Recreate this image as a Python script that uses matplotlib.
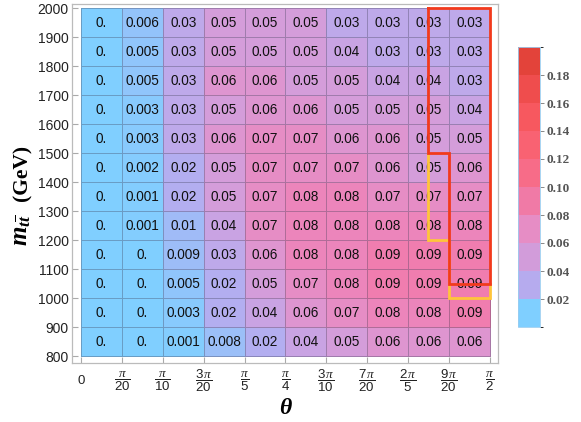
import numpy as np
import matplotlib
matplotlib.use("Agg")
import matplotlib.pyplot as plt
from matplotlib.colors import LinearSegmentedColormap, ListedColormap, BoundaryNorm
import matplotlib.cm as cm

plt.rcParams['mathtext.fontset'] = 'custom'
plt.rcParams['mathtext.rm'] = 'Liberation Serif'
plt.rcParams['mathtext.it'] = 'Liberation Serif:italic'
plt.rcParams['mathtext.bf'] = 'Liberation Serif:bold:italic'
plt.rcParams['mathtext.sf'] = 'Liberation Sans'

# ---------------- data ----------------
theta_steps = np.arange(11)                 # theta = k * pi/20
theta_edges = theta_steps * np.pi / 20
m_edges = np.arange(800, 2001, 100)          # GeV

theta_tick_labels = ['0',
                     r'$\dfrac{\pi}{\mathsf{20}}$', r'$\dfrac{\pi}{\mathsf{10}}$',
                     r'$\dfrac{\mathsf{3}\,\pi}{\mathsf{20}}$', r'$\dfrac{\pi}{\mathsf{5}}$',
                     r'$\dfrac{\pi}{\mathsf{4}}$', r'$\dfrac{\mathsf{3}\,\pi}{\mathsf{10}}$',
                     r'$\dfrac{\mathsf{7}\,\pi}{\mathsf{20}}$', r'$\dfrac{\mathsf{2}\,\pi}{\mathsf{5}}$',
                     r'$\dfrac{\mathsf{9}\,\pi}{\mathsf{20}}$', r'$\dfrac{\pi}{\mathsf{2}}$']
m_tick_labels = [str(v) for v in m_edges]

# rows from m = 800-900 (bottom) to 1900-2000 (top)
cell_labels = [
    ['0.', '0.',    '0.001', '0.008', '0.02', '0.04', '0.05', '0.06', '0.06', '0.06'],
    ['0.', '0.',    '0.003', '0.02',  '0.04', '0.06', '0.07', '0.08', '0.08', '0.09'],
    ['0.', '0.',    '0.005', '0.02',  '0.05', '0.07', '0.08', '0.09', '0.09', '0.09'],
    ['0.', '0.',    '0.009', '0.03',  '0.06', '0.08', '0.08', '0.09', '0.09', '0.09'],
    ['0.', '0.001', '0.01',  '0.04',  '0.07', '0.08', '0.08', '0.08', '0.08', '0.08'],
    ['0.', '0.001', '0.02',  '0.05',  '0.07', '0.08', '0.08', '0.07', '0.07', '0.07'],
    ['0.', '0.002', '0.02',  '0.05',  '0.07', '0.07', '0.07', '0.06', '0.05', '0.06'],
    ['0.', '0.003', '0.03',  '0.06',  '0.07', '0.07', '0.06', '0.06', '0.05', '0.05'],
    ['0.', '0.003', '0.03',  '0.05',  '0.06', '0.06', '0.05', '0.05', '0.05', '0.04'],
    ['0.', '0.005', '0.03',  '0.06',  '0.06', '0.05', '0.05', '0.04', '0.04', '0.03'],
    ['0.', '0.005', '0.03',  '0.05',  '0.05', '0.05', '0.04', '0.03', '0.03', '0.03'],
    ['0.', '0.006', '0.03',  '0.05',  '0.05', '0.05', '0.03', '0.03', '0.03', '0.03'],
]
values = np.array([[float(s) for s in row] for row in cell_labels])

# highlighted regions (theta in units of pi/20, m in GeV)
red_theta = [8.5, 10, 10, 9, 9, 8.5, 8.5]
red_m = [2000, 2000, 1050, 1050, 1500, 1500, 2000]
yellow_theta = [8.5, 8.5, 9, 9, 10, 10]
yellow_m = [1500, 1200, 1200, 1000, 1000, 1050]

cbar_bounds = np.linspace(0, 0.2, 11)
cbar_ticks = [0.02, 0.04, 0.06, 0.08, 0.10, 0.12, 0.14, 0.16, 0.18]
cbar_colors = ['#7FCFFF', '#B6ABEE', '#D29CDA', '#E68DC5', '#F07AA6',
               '#F76C88', '#F96272', '#F7585F', '#EF4D4D', '#E3433A']

# continuous map used for the cells
anchor_vals = [0.0, 0.01, 0.02, 0.03, 0.04, 0.05, 0.06, 0.07, 0.08, 0.09,
               0.10, 0.12, 0.14, 0.16, 0.18, 0.20]
anchor_cols = ['#80CFFF', '#A2BAF6', '#B4AEF0', '#BEA9EA', '#C9A3E3', '#D49DDA',
               '#DE95D0', '#E68DC5', '#EC85BB', '#F07DB0', '#F47596', '#F96272',
               '#F95A66', '#F25050', '#EA4A45', '#E3433A']

# ---------------- figure ----------------
fig = plt.figure(figsize=(5.81, 4.22), dpi=100)
ax = fig.add_axes([72/581, 1-363/422, 426/581, 359/422])

cmap_cont = LinearSegmentedColormap.from_list(
    'cells', list(zip(np.array(anchor_vals)/0.2, anchor_cols)))
ax.pcolormesh(theta_edges, m_edges, values, cmap=cmap_cont, vmin=0, vmax=0.2,
              edgecolors=(0.25, 0.25, 0.35, 0.35), linewidth=0.6)

theta_c = (theta_edges[:-1] + theta_edges[1:]) / 2
m_c = (m_edges[:-1] + m_edges[1:]) / 2
for i, mc in enumerate(m_c):
    for j, tc in enumerate(theta_c):
        ax.text(tc, mc, cell_labels[i][j], ha='center', va='center',
                fontsize=9.8, family='Liberation Sans', color='#111111')

ax.plot(np.array(yellow_theta)*np.pi/20, yellow_m, color='#FFC53A', lw=2.0,
        solid_joinstyle='miter', solid_capstyle='projecting', zorder=5)
ax.plot(np.array(red_theta)*np.pi/20, red_m, color='#F23A1C', lw=2.0,
        solid_joinstyle='miter', zorder=6)

unit = np.pi/20
ax.set_xlim(-0.22*unit, 10.2*unit)
ax.set_ylim(776, 2015.5)

ax.set_xticks(theta_edges)
ax.set_xticklabels(theta_tick_labels, fontsize=9.5, family='Liberation Sans', color='#222222')
for lbl in ax.get_xticklabels():
    lbl.set_va('center')
ax.set_yticks(m_edges)
ax.set_yticklabels(m_tick_labels, fontsize=10, family='Liberation Sans', color='#222222')

ax.tick_params(axis='x', direction='in', length=4, color='#AAAAAA', pad=13, width=0.8)
ax.tick_params(axis='y', direction='in', length=4, color='#AAAAAA', pad=2.5, width=0.8)
for s in ax.spines.values():
    s.set_color('#BBBBBB')
    s.set_linewidth(0.9)

fig.text(285/581, 1-408/422, 'θ', ha='center', va='center', fontsize=17,
         family='Liberation Serif', weight='bold', style='italic')
# y label: math part + unit part
fig.text(27/581, 1-246/422, r'$\mathbf{m}_{\mathbf{t}\overline{\mathbf{t}}}$',
         ha='left', va='baseline', rotation=90, rotation_mode='anchor',
         fontsize=18, family='Liberation Serif', weight='bold')
fig.text(27/581, 1-201/422, '(GeV)',
         ha='left', va='baseline', rotation=90, rotation_mode='anchor',
         fontsize=15.5, family='Liberation Serif', weight='bold')

# colorbar (discrete legend)
cax = fig.add_axes([518/581, 1-327/422, 22/581, 280/422])
sm = cm.ScalarMappable(norm=BoundaryNorm(cbar_bounds, 10), cmap=ListedColormap(cbar_colors))
cb = fig.colorbar(sm, cax=cax, boundaries=cbar_bounds, ticks=cbar_ticks)
cb.outline.set_edgecolor('#9ACDF0')
cb.outline.set_linewidth(0.6)
cb.ax.tick_params(length=3, width=0.7, color='#888888', pad=2)
cb.ax.set_yticklabels(['%.2f' % t for t in cbar_ticks])
for lbl in cb.ax.get_yticklabels():
    lbl.set_family('Liberation Serif')
    lbl.set_weight('bold')
    lbl.set_fontsize(9.5)
    lbl.set_color('#555555')

fig.savefig('out.png', dpi=100)
